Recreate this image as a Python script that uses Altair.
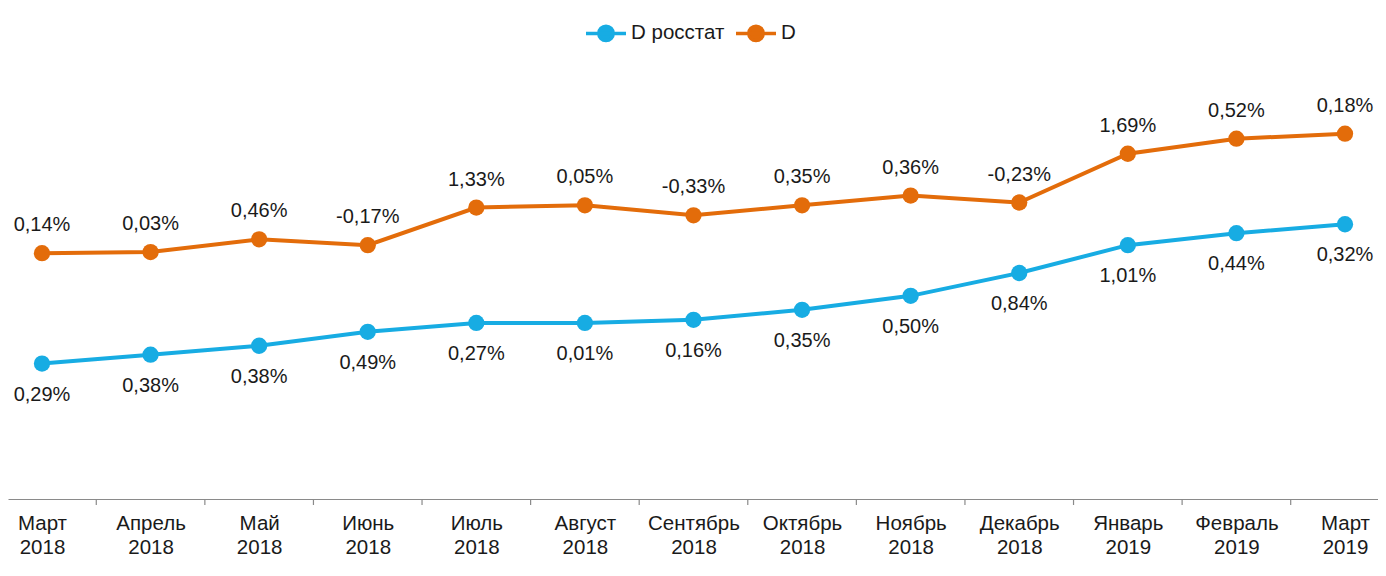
import json
import altair as alt
import pandas as pd

months = ["Март", "Апрель", "Май", "Июнь", "Июль", "Август", "Сентябрь",
          "Октябрь", "Ноябрь", "Декабрь", "Январь", "Февраль", "Март"]
years = ["2018", "2018", "2018", "2018", "2018", "2018", "2018",
         "2018", "2018", "2018", "2019", "2019", "2019"]

series_names = ["D росстат", "D"]

# vertical level of each line (cumulative index)
rosstat_level = [4.86, 5.18, 5.50, 6.00, 6.32, 6.32, 6.43, 6.79, 7.29, 8.11, 9.11, 9.54, 9.86]
d_level = [8.82, 8.86, 9.32, 9.11, 10.46, 10.54, 10.18, 10.54, 10.89, 10.64, 12.39, 12.93, 13.11]

# monthly change labels
rosstat_labels = ["0,29%", "0,38%", "0,38%", "0,49%", "0,27%", "0,01%", "0,16%",
                  "0,35%", "0,50%", "0,84%", "1,01%", "0,44%", "0,32%"]
d_labels = ["0,14%", "0,03%", "0,46%", "-0,17%", "1,33%", "0,05%", "-0,33%",
            "0,35%", "0,36%", "-0,23%", "1,69%", "0,52%", "0,18%"]

BLUE = "#17ace3"
ORANGE = "#e36c0a"
FONT = "Liberation Sans"
TEXT = "#1a1a1a"

rows = []
for i in range(len(months)):
    rows.append({"idx": i, "series": series_names[0], "level": rosstat_level[i], "label": rosstat_labels[i]})
    rows.append({"idx": i, "series": series_names[1], "level": d_level[i], "label": d_labels[i]})
df = pd.DataFrame(rows)

ticks_df = pd.DataFrame({"pos": [i + 0.5 for i in range(len(months) - 1)]})

label_lines = [[m, y] for m, y in zip(months, years)]
label_expr = json.dumps(label_lines, ensure_ascii=False) + "[datum.value]"

xscale = alt.Scale(domain=[-0.313, 12.304], nice=False, zero=False)
yscale = alt.Scale(domain=[0, 17.62], nice=False, zero=True)

x_enc = alt.X("idx:Q", scale=xscale,
              axis=alt.Axis(values=list(range(len(months))), labelExpr=label_expr,
                            ticks=False, grid=False, title=None,
                            domainColor="#8a8a8a", domainWidth=1.2,
                            labelFont=FONT, labelFontSize=20.5, labelColor=TEXT,
                            labelLineHeight=24, labelPadding=14, labelBaseline="top",
                            labelAngle=0))
y_enc = alt.Y("level:Q", scale=yscale, axis=None)

sym_path = "M-1,0L1,0M0.36,0A0.36,0.36,0,1,1,-0.36,0A0.36,0.36,0,1,1,0.36,0Z"
color_enc = alt.Color("series:N",
                      scale=alt.Scale(domain=series_names, range=[BLUE, ORANGE]),
                      legend=alt.Legend(orient="none", legendX=576, legendY=3,
                                        direction="horizontal", title=None,
                                        symbolType=sym_path, symbolSize=1600,
                                        symbolStrokeWidth=3.5, symbolOpacity=1,
                                        labelFont=FONT, labelFontSize=20.5, labelColor=TEXT,
                                        labelOffset=3, columnPadding=4))

base = alt.Chart(df)

lines = base.mark_line(strokeWidth=4).encode(x=x_enc, y=y_enc, color=color_enc)
points = base.mark_point(filled=True, size=265, opacity=1).encode(x=x_enc, y=y_enc, color=color_enc)

text_d = base.transform_filter(alt.datum.series == series_names[1]).mark_text(
    dy=-28, font=FONT, fontSize=20, color=TEXT, baseline="middle", align="center"
).encode(x=x_enc, y=y_enc, text="label:N")
text_r = base.transform_filter(alt.datum.series == series_names[0]).mark_text(
    dy=31, font=FONT, fontSize=20, color=TEXT, baseline="middle", align="center"
).encode(x=x_enc, y=y_enc, text="label:N")

tick_rules = alt.Chart(ticks_df).mark_rule(color="#8a8a8a", strokeWidth=1.2).encode(
    x=alt.X("pos:Q", scale=xscale),
    y=alt.value(491), y2=alt.value(497))

chart = alt.layer(tick_rules, lines, points, text_d, text_r).properties(
    width=1370, height=491, padding=0, background="white"
).configure_view(stroke=None)

chart.save("out.html", embed_options={"renderer": "svg", "actions": False})
